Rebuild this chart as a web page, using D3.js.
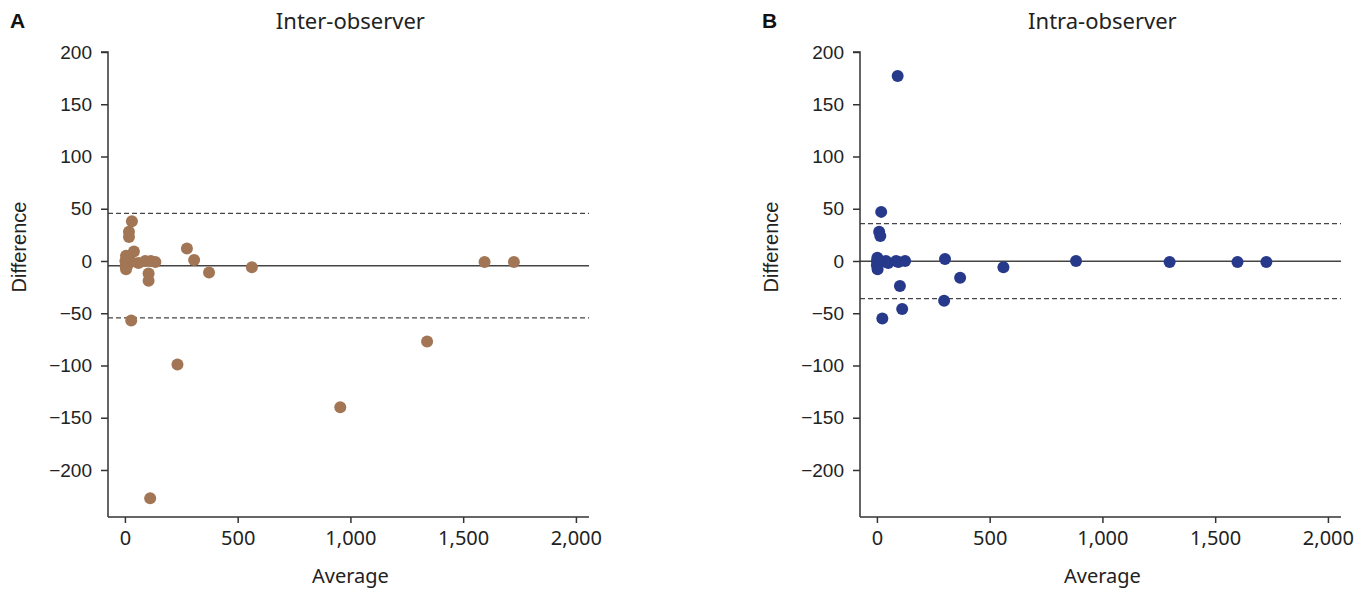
<!DOCTYPE html>
<html>
<head>
<meta charset="utf-8">
<script src="https://cdn.jsdelivr.net/npm/d3@7"></script>
<style>
  html, body { margin: 0; padding: 0; background: #fff; }
  svg { display: block; }
</style>
</head>
<body>
<svg id="chart" width="1367" height="589"></svg>
<script>
// ---- Data ----
const panelLetters = ["A", "B"];
const panelTitles = ["Inter-observer", "Intra-observer"];
const xTicks = [0, 500, 1000, 1500, 2000];
const yTicks = [-200, -150, -100, -50, 0, 50, 100, 150, 200];

// Panel A (inter-observer): average, difference
const interAvg  = [31, 18, 18, 40, 5, 2, 5, 15, 10, 60, 90, 105, 105, 115, 135, 28, 112, 233, 275, 307, 373, 563, 955, 1340, 1595, 1725, 3, 25];
const interDiff = [38, 28, 23, 9, 5, 0, -8, -3, 2, -2, 0, -12, -19, 0, -1, -57, -227, -99, 12, 1, -11, -6, -140, -77, -1, -1, -5, 0];
const interMean = -4.5, interUpper = 45.6, interLower = -54.5;

// Panel B (intra-observer)
const intraAvg  = [92, 19, 10, 15, 2, 0, 3, 8, 40, 50, 85, 95, 125, 102, 112, 24, 302, 298, 369, 561, 883, 1298, 1599, 1727, 0, 5];
const intraDiff = [177, 47, 28, 24, 3, 0, -8, -3, 0, -2, 0, -1, 0, -24, -46, -55, 2, -38, -16, -6, 0, -1, -1, -1, -4, 1];
const intraMean = -0.2, intraUpper = 35.7, intraLower = -36;

const panels = [
  { avg: interAvg, diff: interDiff, mean: interMean, upper: interUpper, lower: interLower, color: "#a27655", left: 108 },
  { avg: intraAvg, diff: intraDiff, mean: intraMean, upper: intraUpper, lower: intraLower, color: "#27398a", left: 860 }
];

const svg = d3.select("#chart");
const plotW = 481, plotTop = 52, plotBottom = 517;
const axisColor = "#333";
const tickFont = "'Liberation Sans', Arial, sans-serif";
const labelFont = "'Noto Sans', sans-serif";

panels.forEach((p, i) => {
  const g = svg.append("g");
  const x = d3.scaleLinear().domain([-75, 2058]).range([p.left, p.left + plotW]);
  const y = d3.scaleLinear().domain([-245, 200]).range([plotBottom, plotTop]);

  // Reference lines
  g.append("line")
    .attr("x1", x.range()[0]).attr("x2", x.range()[1])
    .attr("y1", y(p.mean)).attr("y2", y(p.mean))
    .attr("stroke", "#444").attr("stroke-width", 1.5);
  [p.upper, p.lower].forEach(v => {
    g.append("line")
      .attr("x1", x.range()[0]).attr("x2", x.range()[1])
      .attr("y1", y(v)).attr("y2", y(v))
      .attr("stroke", "#444").attr("stroke-width", 1.2)
      .attr("stroke-dasharray", "5,3");
  });

  // Axes
  const yAxis = d3.axisLeft(y).tickValues(yTicks).tickSize(7).tickPadding(9).tickFormat(d3.format("d"));
  const ya = g.append("g").attr("transform", `translate(${p.left},0)`).call(yAxis);
  ya.select(".domain").attr("d", `M-7,${plotTop}H0V${plotBottom}`).attr("stroke", axisColor).attr("stroke-width", 1.5);
  ya.selectAll(".tick line").attr("stroke", axisColor).attr("stroke-width", 1.5);
  ya.selectAll(".tick text").attr("font-family", tickFont).attr("font-size", 19).attr("fill", "#222");

  const xAxis = d3.axisBottom(x).tickValues(xTicks).tickSize(6).tickPadding(8).tickFormat(d3.format(","));
  const xa = g.append("g").attr("transform", `translate(0,${plotBottom})`).call(xAxis);
  xa.select(".domain").attr("d", `M${x.range()[0]},0H${x.range()[1]}`).attr("stroke", axisColor).attr("stroke-width", 1.5);
  xa.selectAll(".tick line").attr("stroke", axisColor).attr("stroke-width", 1.5);
  xa.selectAll(".tick text").attr("font-family", labelFont).attr("font-size", 20).attr("fill", "#222");

  // Points
  g.selectAll("circle.pt").data(p.avg.map((a, k) => [a, p.diff[k]])).enter()
    .append("circle").attr("class", "pt")
    .attr("cx", d => x(d[0])).attr("cy", d => y(d[1]))
    .attr("r", 6).attr("fill", p.color);

  // Labels
  const cx = (x(0) + x(2000)) / 2;
  g.append("text").attr("x", cx).attr("y", 29).attr("text-anchor", "middle")
    .attr("font-family", labelFont).attr("font-size", 22).attr("fill", "#222")
    .text(panelTitles[i]);
  g.append("text").attr("x", cx).attr("y", 583).attr("text-anchor", "middle")
    .attr("font-family", labelFont).attr("font-size", 20).attr("fill", "#222")
    .text("Average");
  g.append("text").attr("transform", `translate(${p.left - 82},247) rotate(-90)`)
    .attr("text-anchor", "middle")
    .attr("font-family", tickFont).attr("font-size", 20).attr("fill", "#222")
    .text("Difference");
  g.append("text").attr("x", p.left - 98).attr("y", 28)
    .attr("font-family", tickFont).attr("font-weight", "bold").attr("font-size", 21).attr("fill", "#111")
    .text(panelLetters[i]);
});
</script>
</body>
</html>
